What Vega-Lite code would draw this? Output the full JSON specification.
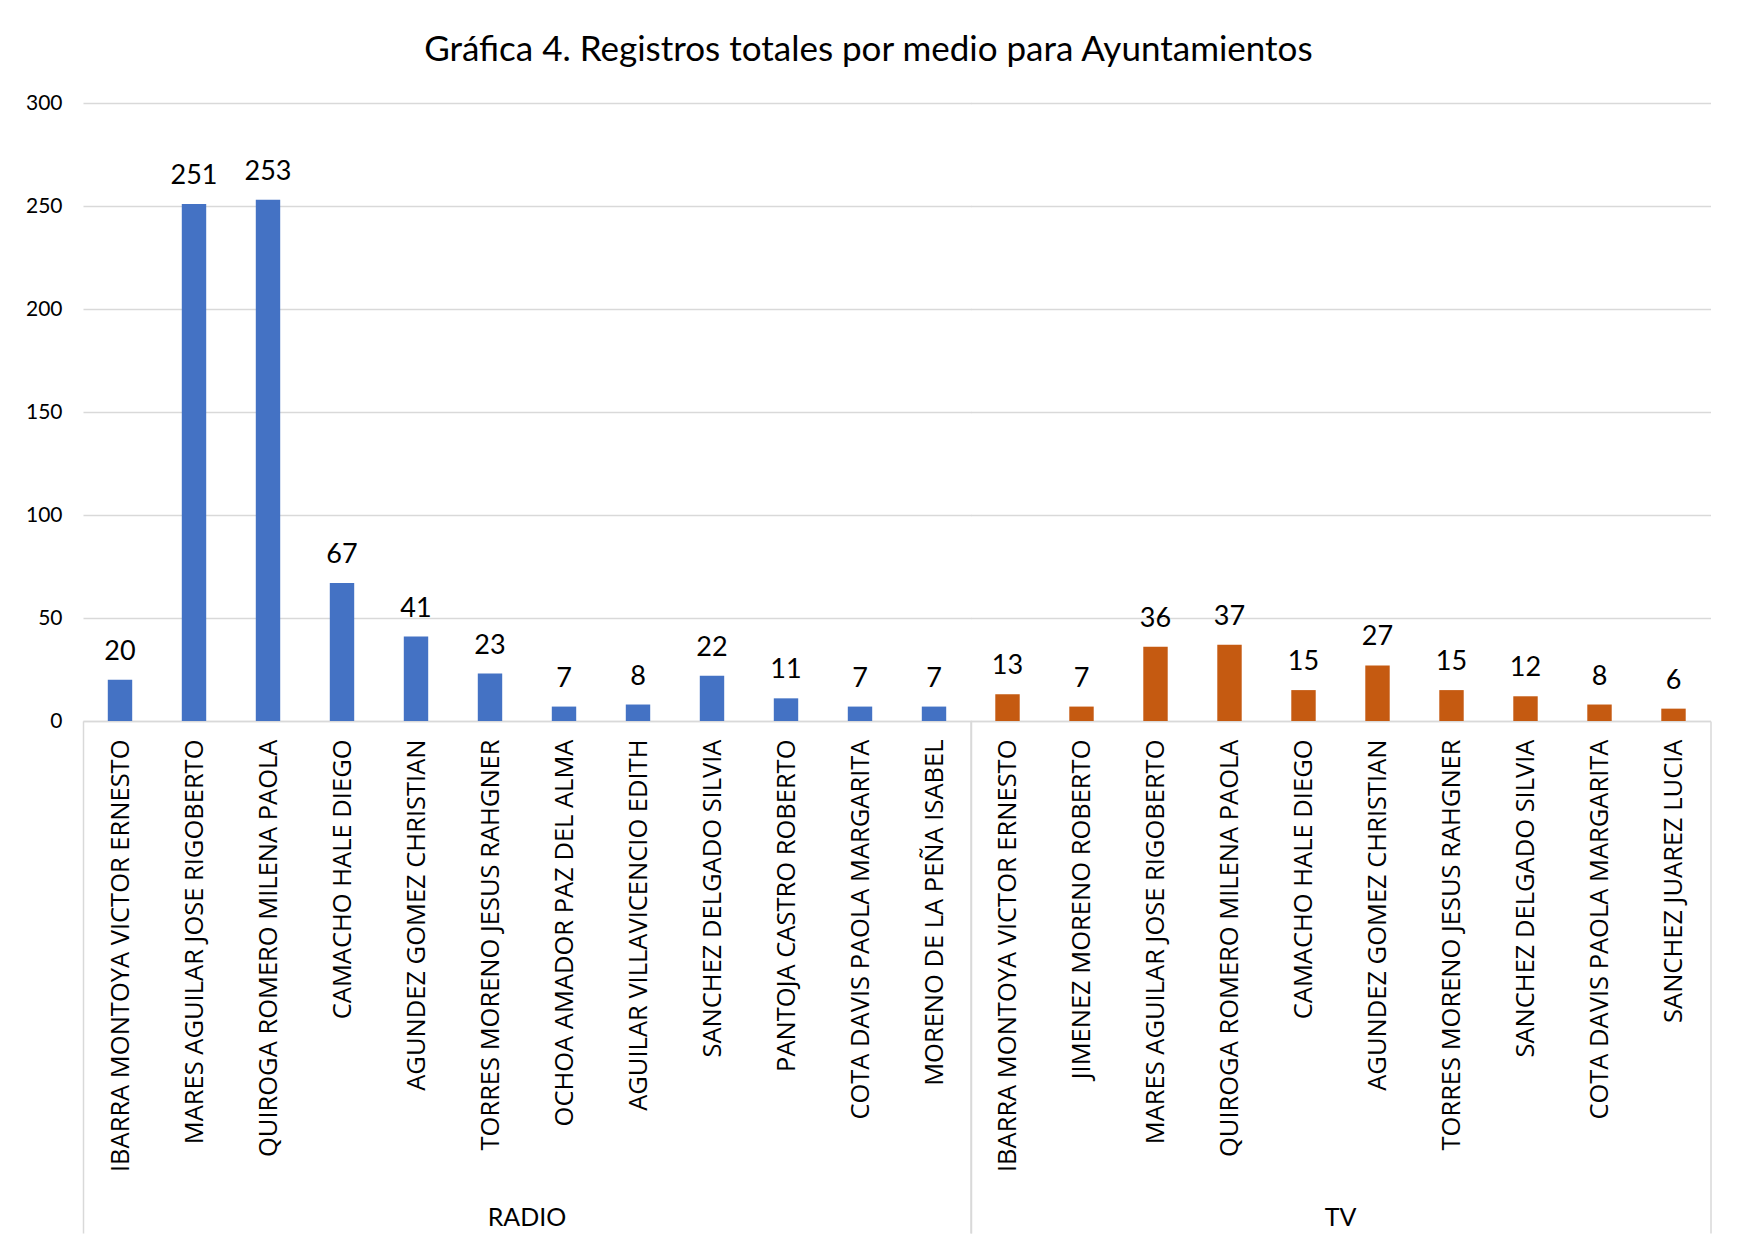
{
  "$schema": "https://vega.github.io/schema/vega-lite/v6.json",
  "padding": {"top": 33, "left": 25, "right": 20, "bottom": 0},
  "background": "white",
  "title": {
    "text": "Gráfica 4. Registros totales por medio para Ayuntamientos",
    "font": "Lato",
    "fontSize": 35,
    "fontWeight": "normal",
    "color": "#000000",
    "anchor": "middle",
    "frame": "bounds",
    "offset": 24
  },
  "data": {
    "values": [
      {"medio": "RADIO", "nombre": "IBARRA MONTOYA VICTOR ERNESTO", "registros": 20},
      {"medio": "RADIO", "nombre": "MARES AGUILAR JOSE RIGOBERTO", "registros": 251},
      {"medio": "RADIO", "nombre": "QUIROGA ROMERO MILENA PAOLA", "registros": 253},
      {"medio": "RADIO", "nombre": "CAMACHO HALE DIEGO", "registros": 67},
      {"medio": "RADIO", "nombre": "AGUNDEZ GOMEZ CHRISTIAN", "registros": 41},
      {"medio": "RADIO", "nombre": "TORRES MORENO JESUS RAHGNER", "registros": 23},
      {"medio": "RADIO", "nombre": "OCHOA AMADOR PAZ DEL ALMA", "registros": 7},
      {"medio": "RADIO", "nombre": "AGUILAR VILLAVICENCIO EDITH", "registros": 8},
      {"medio": "RADIO", "nombre": "SANCHEZ DELGADO SILVIA", "registros": 22},
      {"medio": "RADIO", "nombre": "PANTOJA CASTRO ROBERTO", "registros": 11},
      {"medio": "RADIO", "nombre": "COTA DAVIS PAOLA MARGARITA", "registros": 7},
      {"medio": "RADIO", "nombre": "MORENO DE LA PEÑA ISABEL", "registros": 7},
      {"medio": "TV", "nombre": "IBARRA MONTOYA VICTOR ERNESTO", "registros": 13},
      {"medio": "TV", "nombre": "JIMENEZ MORENO ROBERTO", "registros": 7},
      {"medio": "TV", "nombre": "MARES AGUILAR JOSE RIGOBERTO", "registros": 36},
      {"medio": "TV", "nombre": "QUIROGA ROMERO MILENA PAOLA", "registros": 37},
      {"medio": "TV", "nombre": "CAMACHO HALE DIEGO", "registros": 15},
      {"medio": "TV", "nombre": "AGUNDEZ GOMEZ CHRISTIAN", "registros": 27},
      {"medio": "TV", "nombre": "TORRES MORENO JESUS RAHGNER", "registros": 15},
      {"medio": "TV", "nombre": "SANCHEZ DELGADO SILVIA", "registros": 12},
      {"medio": "TV", "nombre": "COTA DAVIS PAOLA MARGARITA", "registros": 8},
      {"medio": "TV", "nombre": "SANCHEZ JUAREZ LUCIA", "registros": 6}
    ]
  },
  "facet": {
    "column": {
      "field": "medio",
      "type": "nominal",
      "sort": ["RADIO", "TV"],
      "title": null,
      "header": {
        "labelOrient": "bottom",
        "labelFont": "Lato",
        "labelFontSize": 25,
        "labelColor": "#000000",
        "labelPadding": -28
      }
    }
  },
  "spacing": -13.5,
  "resolve": {"scale": {"x": "independent"}},
  "spec": {
    "width": {"step": 74},
    "height": 618,
    "encoding": {
      "x": {
        "field": "nombre",
        "type": "nominal",
        "sort": null,
        "scale": {"paddingInner": 0, "paddingOuter": 0},
        "axis": {
          "title": null,
          "labelAngle": -90,
          "labelFont": "Open Sans",
          "labelFontSize": 25.5,
          "labelColor": "#000000",
          "labelPadding": -494,
          "labelLimit": 1000,
          "domainColor": "#d9d9d9",
          "domainWidth": 1.5,
          "tickBand": "extent",
          "tickSize": 512,
          "tickColor": "#d9d9d9",
          "tickWidth": 1.5,
          "tickOpacity": {"condition": {"test": "datum.index === 1 || datum.index < 0 || !!datum.extra", "value": 1}, "value": 0},
          "grid": false
        }
      },
      "y": {
        "field": "registros",
        "type": "quantitative",
        "scale": {"domain": [0, 300], "nice": false},
        "axis": {
          "title": null,
          "values": [0, 50, 100, 150, 200, 250, 300],
          "labelFont": "Lato",
          "labelFontSize": 21,
          "labelColor": "#000000",
          "labelPadding": 9,
          "domain": false,
          "ticks": false,
          "gridColor": "#d9d9d9",
          "gridWidth": 1.5
        }
      }
    },
    "layer": [
      {
        "mark": {"type": "bar", "width": {"band": 0.33}},
        "encoding": {
          "color": {
            "field": "medio",
            "type": "nominal",
            "scale": {"domain": ["RADIO", "TV"], "range": ["#4472C4", "#C55A11"]},
            "legend": null
          }
        }
      },
      {
        "mark": {"type": "text", "font": "Lato", "fontSize": 27, "baseline": "alphabetic", "dy": -20, "color": "#000000"},
        "encoding": {"text": {"field": "registros", "type": "quantitative"}}
      }
    ]
  },
  "config": {"view": {"stroke": null}}
}
